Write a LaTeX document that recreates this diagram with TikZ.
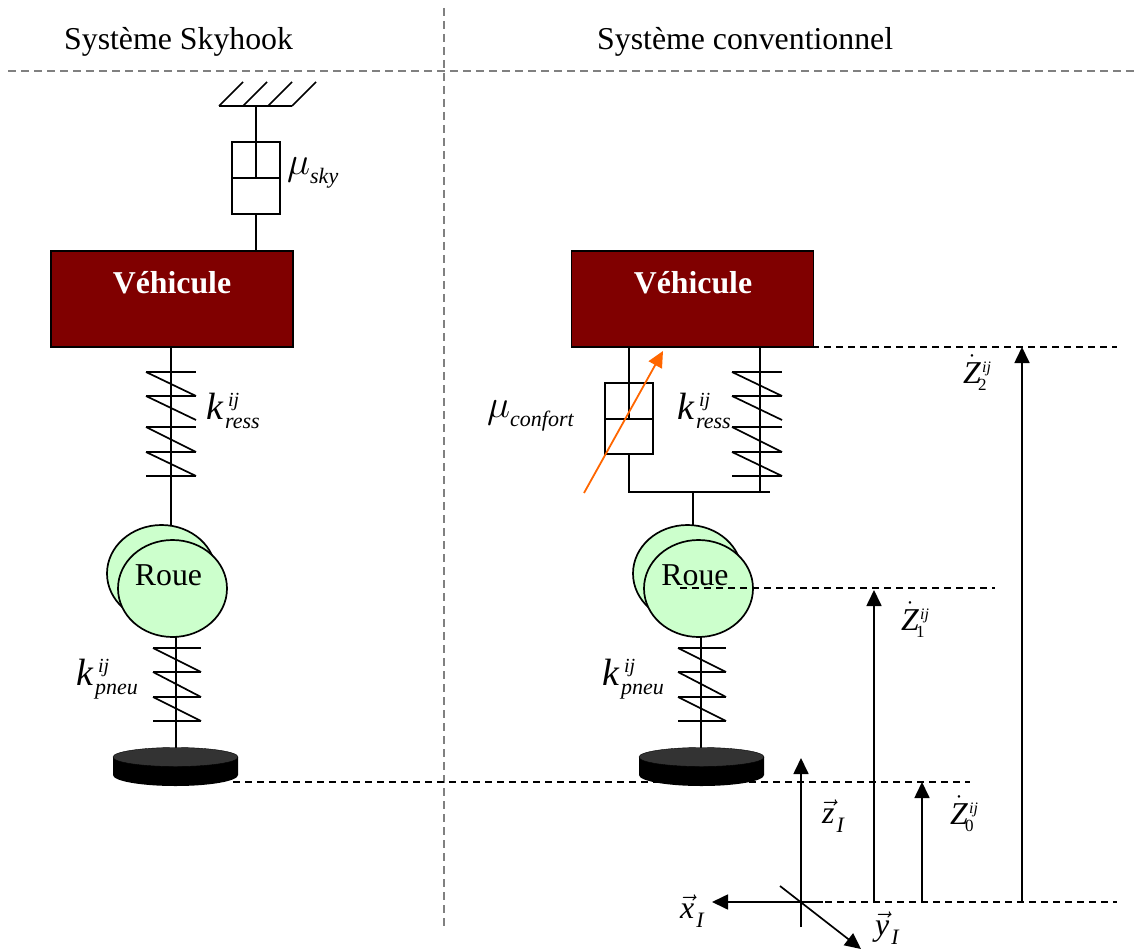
\documentclass[tikz,border=0pt]{standalone}
\usepackage{fix-cm}
\usepackage{amsmath}
\usepackage{fontspec}
\setmainfont{Liberation Serif}
\usetikzlibrary{calc,arrows.meta,shapes.geometric}
\definecolor{DRed}{HTML}{800000}
\definecolor{LGreen}{HTML}{CCFFCC}
\definecolor{DGray}{HTML}{333333}
\definecolor{Orange}{HTML}{FF6600}
\definecolor{gray}{HTML}{808080}
\tikzset{
    trait/.style={black, line width=1.7pt},
    pointille/.style={black, line width=1.4pt, dash pattern=on 7pt off 5pt},
    separation/.style={gray, line width=1.3pt, dash pattern=on 8pt off 5pt},
    fleche/.style={trait, -{Triangle[length=16pt, width=15pt]}},
    vehicule/.style={draw=black, line width=1.7pt, fill=DRed, minimum width=242pt, minimum height=96pt, inner sep=0pt},
    roue/.style={ellipse, draw=black, line width=1.7pt, fill=LGreen, minimum width=109pt, minimum height=97pt, inner sep=0pt},
    amortisseur/.style={draw=black, line width=1.7pt, fill=white, minimum width=48pt, minimum height=72pt, inner sep=0pt},
    texte/.style={inner sep=0pt, anchor=base west, font=\fontsize{31.8}{36}\selectfont},
    titre/.style={texte, text=black},
    nomveh/.style={texte, anchor=base, text=white, font=\fontsize{31.8}{36}\selectfont\bfseries},
}
\newcommand{\Grand}{\fontsize{38}{42}\selectfont}
\newcommand{\Petit}{\fontsize{22}{25}\selectfont}
\newcommand{\Mini}{\fontsize{17}{19}\selectfont}
% k avec indices
\newcommand{\CoefK}[1]{{\Grand\itshape k}\kern2pt\rlap{\kern3pt\raisebox{13pt}{\fontsize{20}{22}\selectfont\itshape ij}}\raisebox{-9pt}{\Petit\itshape #1}}
\newcommand{\CoefMu}[1]{{\fontsize{39}{42}\selectfont$\mu$}\raisebox{-9pt}{\Petit\itshape #1}}
\newcommand{\VitZ}[1]{$\dot{\mbox{\textit{Z}}}$\kern-3pt\rlap{\kern4pt\raisebox{11pt}{\fontsize{16}{18}\selectfont\itshape ij}}\raisebox{-7.5pt}{\Mini #1}}
\newcommand{\VecI}[1]{$\vec{\mbox{\textit{#1}}}$\kern2pt\raisebox{-9pt}{\Petit\itshape I}}
\NewDocumentCommand{\RessortHaut}{O{(0,0)}}{
    \begin{scope}[shift={#1}]
    \draw[trait] (0,0) -- (50,0) (0,24) -- (50,24) (0,55) -- (50,55) (0,80) -- (50,80) (0,104) -- (50,104);
    \draw[trait] (0,0) -- (50,24) (0,24) -- (50,48) (0,55) -- (50,80) (0,80) -- (50,104);
    \end{scope}
}
\NewDocumentCommand{\RessortBas}{O{(0,0)}}{
    \begin{scope}[shift={#1}]
    \draw[trait] (0,0) -- (48,0) (0,24) -- (48,24) (0,49) -- (48,49) (0,73) -- (48,73);
    \draw[trait] (0,0) -- (48,24) (0,24) -- (48,49) (0,49) -- (48,73);
    \end{scope}
}
\NewDocumentCommand{\Disque}{O{(0,0)}}{
    \begin{scope}[shift={#1}]
    \fill[black] (-62.5,0) -- (-62.5,18) arc[start angle=180, end angle=360, x radius=62.5pt, y radius=11pt] -- (62.5,0) -- cycle;
    \draw[black, fill=DGray] (0,0) ellipse[x radius=62.5pt, y radius=9.5pt];
    \end{scope}
}
\newcommand{\Canvas}{
\useasboundingbox (0,0) rectangle (1134,949);

\begin{scope}[shift={(0,0)}, name prefix=L-]
    \coordinate (veh) at (172,299);
    \coordinate (axe-haut) at (171,526);
    \coordinate (roue-arr) at (161.5,573.5);
    \coordinate (roue-av) at (172.5,588.5);
    \coordinate (axe-bas) at (176,637);
    \coordinate (disque) at (175.5,757);
\end{scope}

\begin{scope}[shift={(526,0)}, name prefix=R-]
    \coordinate (veh) at (166.5,299);
    \coordinate (axe-haut) at (167,492);
    \coordinate (roue-arr) at (161.5,573.5);
    \coordinate (roue-av) at (172.5,588.5);
    \coordinate (axe-bas) at (175,637);
    \coordinate (disque) at (175.5,757);
\end{scope}

\coordinate (O) at (801,902);
\coordinate (base-z) at (801,927);
\coordinate (tip-z) at (801,758);
\coordinate (tip-x) at (712,902);
\coordinate (base-y) at (780,886);
\coordinate (tip-y) at (861,949);
\coordinate (tip-Z0) at (922,782);
\coordinate (tip-Z1) at (874,590);
\coordinate (tip-Z2) at (1022,347);
}

\begin{document}
\begin{tikzpicture}[x=1pt, y=-1pt]
\Canvas
\coordinate (sep-g) at (8,71);
\coordinate (sep-d) at (1134,71);
\coordinate (sep-h) at (444,8);
\coordinate (sep-b) at (444,928);
\draw[separation] (sep-g) -- (sep-d);
\draw[separation] (sep-h) -- (sep-b);
\node[titre] (titre-sky) at (64,50) {Système Skyhook};
\node[titre] (titre-conv) at (597,50) {Système conventionnel};

% systeme skyhook
\coordinate (bati) at (256,106);
\draw[trait] (219,106) -- (292,106);
\foreach \x in {219,243,268,292}
    \draw[trait] (\x,106) -- ++(24,-24);
\node[amortisseur] (amort-sky) at (256,178) {};
\draw[trait] (amort-sky.west) -- (amort-sky.east);
\draw[trait] (bati) -- (amort-sky.center);
\node[vehicule] (L-vehicule) at (L-veh) {};
\draw[trait] (amort-sky.south) -- (amort-sky.south |- L-vehicule.north);
\node[nomveh] (L-nom) at (172,294) {Véhicule};
\draw[trait] (L-vehicule.south -| L-axe-haut) -- (L-axe-haut);
\RessortHaut[(146,372)]
\node[roue] (L-arr) at (L-roue-arr) {};
\node[roue] (L-av) at (L-roue-av) {};
\node[titre, anchor=base] (L-roue) at (168.5,585) {Roue};
\draw[trait] (L-axe-bas) -- (L-axe-bas |- L-disque);
\RessortBas[(153,648)]
\Disque[(L-disque)]
\node[texte] (mu-sky) at (287,175) {\CoefMu{sky}};
\node[texte] (L-kress) at (206,419) {\CoefK{ress}};
\node[texte] (L-kpneu) at (76,685) {\CoefK{pneu}};

% systeme conventionnel
\node[vehicule] (R-vehicule) at (R-veh) {};
\node[nomveh] (R-nom) at (693,294) {Véhicule};
\node[amortisseur, minimum height=71pt] (amort-conf) at (629,418.5) {};
\coordinate (R-milieu) at (629,419);
\draw[trait] (amort-conf.west |- R-milieu) -- (amort-conf.east |- R-milieu);
\coordinate (R-bas-amort) at (629,492);
\coordinate (R-bas-ress) at (760,492);
\coordinate (R-barre-fin) at (770,492);
\draw[trait] (R-milieu) -- (R-milieu |- R-vehicule.south);
\draw[trait] (amort-conf.south) -- (R-bas-amort) -- (R-barre-fin);
\draw[trait] (R-bas-ress) -- (R-bas-ress |- R-vehicule.south);
\draw[trait] (R-axe-haut) -- ++(0,34);
\RessortHaut[(732,372)]
\node[roue] (R-arr) at (R-roue-arr) {};
\node[roue] (R-av) at (R-roue-av) {};
\node[titre, anchor=base] (R-roue) at (695,585) {Roue};
\draw[trait] (R-axe-bas) -- (R-axe-bas |- R-disque);
\RessortBas[(678,648)]
\Disque[(R-disque)]
\coordinate (reglage-a) at (584,493);
\coordinate (reglage-b) at (663,351);
\draw[Orange, line width=1.8pt, -{Triangle[length=16pt, width=15pt]}] (reglage-a) -- (reglage-b);
\node[texte] (mu-conf) at (487,417) {\CoefMu{confort}};
\node[texte] (R-kress) at (677,419) {\CoefK{ress}};
\node[texte] (R-kpneu) at (602,685) {\CoefK{pneu}};

% niveaux et reperes
\coordinate (n2-a) at (608,347);
\coordinate (n2-b) at (1117,347);
\coordinate (n1-a) at (680,588);
\coordinate (n1-b) at (995,588);
\coordinate (n0-a) at (233,782);
\coordinate (n0-b) at (970,782);
\coordinate (ref-b) at (1117,902);
\draw[pointille] (n2-a) -- (n2-b);
\draw[pointille] (n1-a) -- (n1-b);
\draw[pointille] (n0-a) -- (n0-b);
\draw[pointille] (O) -- (ref-b);
\draw[fleche] (base-z) -- (tip-z);
\draw[fleche] (823,902) -- (tip-x);
\draw[fleche] (base-y) -- (tip-y);
\draw[fleche] (tip-Z1 |- O) -- (tip-Z1);
\draw[fleche] (tip-Z0 |- O) -- (tip-Z0);
\draw[fleche] (tip-Z2 |- O) -- (tip-Z2);
\node[texte] (Z2) at (963,383) {\VitZ{2}};
\node[texte] (Z1) at (901,630) {\VitZ{1}};
\node[texte] (Z0) at (950,824) {\VitZ{0}};
\node[texte] (vec-z) at (822,823) {\VecI{z}};
\node[texte] (vec-x) at (680,918) {\VecI{x}};
\node[texte] (vec-y) at (875,935) {\VecI{y}};
\end{tikzpicture}
\end{document}
